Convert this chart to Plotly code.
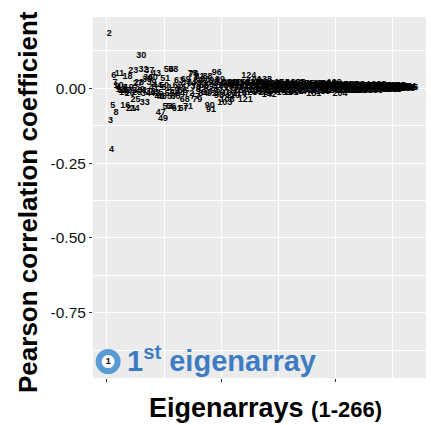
import plotly.graph_objects as go

# Eigenarray indices (1-266) and Pearson correlation coefficient
eigenarray_ids = list(range(1, 267))
correlation = [
    -0.913, 0.183, -0.107, -0.207, -0.057, 0.043, 0.020, -0.083, 0.005, 0.010,
    0.050, -0.005, 0.000, -0.010, -0.015, -0.060, -0.010, 0.037, 0.000, -0.020,
    -0.070, -0.010, 0.057, -0.070, -0.037, -0.015, 0.015, 0.020, -0.005, 0.110,
    -0.010, 0.063, -0.050, -0.020, 0.030, 0.035, 0.060, -0.012, 0.020, 0.035,
    0.000, -0.020, 0.050, 0.010, -0.015, -0.030, -0.083, -0.030, -0.103, 0.010,
    0.033, 0.000, -0.063, 0.063, -0.020, -0.063, -0.030, 0.063, -0.010, -0.030,
    -0.068, 0.010, 0.025, -0.020, 0.000, -0.010, -0.070, -0.037, 0.030, 0.015,
    -0.063, -0.020, 0.005, 0.020, 0.050, 0.045, -0.030, 0.000, -0.037, 0.025,
    0.040, -0.005, 0.015, -0.020, 0.010, 0.030, -0.015, 0.037, 0.005, -0.060,
    -0.073, -0.020, 0.020, 0.025, -0.010, 0.053, 0.010, -0.025, 0.030, 0.005,
    -0.015, 0.020, -0.050, 0.010, -0.037, 0.015, -0.020, 0.020, 0.000, -0.025,
    0.015, 0.020, -0.010, 0.010, 0.020, -0.020, 0.000, 0.015, 0.020, -0.010,
    -0.037, 0.005, 0.020, 0.043, -0.015, 0.010, -0.005, 0.015, 0.025, -0.010,
    0.005, 0.018, -0.012, 0.008, 0.020, -0.005, 0.012, 0.027, -0.015, 0.004,
    0.015, -0.023, 0.010, -0.008, 0.016, 0.002, -0.012, 0.018, 0.006, -0.010,
    0.012, -0.004, 0.020, 0.008, -0.014, 0.010, 0.000, 0.016, -0.008, 0.012,
    -0.016, 0.005, 0.018, -0.006, 0.010, -0.012, 0.020, 0.004, -0.010, 0.014,
    -0.002, 0.012, 0.006, -0.013, 0.016, 0.002, -0.008, 0.012, 0.008, -0.006,
    -0.017, 0.010, 0.015, -0.004, 0.008, -0.010, 0.012, 0.004, -0.012, 0.014,
    0.000, -0.008, 0.010, 0.016, -0.004, 0.006, -0.010, 0.012, 0.020, 0.002,
    -0.008, 0.010, 0.006, -0.017, 0.012, 0.004, -0.006, 0.010, -0.010, 0.008,
    0.002, -0.008, 0.012, 0.000, -0.005, 0.010, 0.005, -0.009, 0.011, 0.003,
    -0.006, 0.009, -0.003, 0.012, 0.004, -0.008, 0.007, 0.001, -0.006, 0.010,
    0.003, -0.004, 0.009, 0.006, -0.007, 0.008, 0.000, 0.011, -0.005, 0.006,
    0.002, -0.006, 0.009, 0.004, -0.003, 0.007, 0.001, -0.005, 0.008, 0.003,
    -0.004, 0.006, 0.002, -0.003, 0.007, 0.004, -0.002, 0.005, 0.001, -0.003,
    0.006, 0.003, -0.001, 0.004, 0.002, 0.003,
]

y_tick_vals = [0.0, -0.25, -0.5, -0.75]
y_tick_text = ["0.00", "-0.25", "-0.50", "-0.75"]
x_tick_vals = [0, 100, 200]

highlight_color = "#5B9BD5"
label_color = "#3D7CC2"
FONT = "Liberation Sans, Arial, sans-serif"

W, H = 431, 425
L, R, T, B = 93, 5, 17, 47

fig = go.Figure()

# Ring around the 1st eigenarray
fig.add_trace(go.Scatter(
    x=[eigenarray_ids[0]], y=[correlation[0]], mode="markers",
    marker=dict(symbol="circle", size=19, color="white",
                line=dict(color=highlight_color, width=6)),
    hoverinfo="skip", showlegend=False,
))

# Number labels for every eigenarray
fig.add_trace(go.Scatter(
    x=eigenarray_ids, y=correlation, mode="text",
    text=[str(i) for i in eigenarray_ids],
    textposition="middle center",
    textfont=dict(family=FONT, size=9, color="black", weight="bold"),
    showlegend=False,
))

fig.add_annotation(
    x=eigenarray_ids[0], y=correlation[0], xref="x", yref="y",
    xshift=17, xanchor="left", yanchor="middle", yshift=3,
    text="<b>1<sup>st</sup> eigenarray</b>", showarrow=False,
    font=dict(family=FONT, size=29, color=label_color),
)

# Axis titles placed as annotations (pixel positions converted to paper coords)
pw, ph = W - L - R, H - T - B
fig.add_annotation(
    x=(28 - L) / pw, y=(H - B - 202) / ph, xref="paper", yref="paper",
    text="<b>Pearson correlation coefficient</b>", textangle=-90,
    showarrow=False, xanchor="center", yanchor="middle",
    font=dict(family=FONT, size=26, color="black"),
)
fig.add_annotation(
    x=(265 - L) / pw, y=(H - B - 408) / ph, xref="paper", yref="paper",
    text="<b>Eigenarrays <span style='font-size:22px'>(1-266)</span></b>",
    showarrow=False, xanchor="center", yanchor="middle",
    font=dict(family=FONT, size=27, color="black"),
)

fig.update_layout(
    width=W, height=H,
    margin=dict(l=L, r=R, t=T, b=B, autoexpand=False),
    paper_bgcolor="white", plot_bgcolor="#EBEBEB",
    font=dict(family=FONT, color="black"),
    xaxis=dict(
        range=[-12.25, 279.25], tickvals=x_tick_vals, showticklabels=False,
        ticks="outside", ticklen=3, tickcolor="#333333", tickwidth=1,
        showgrid=True, gridcolor="white", gridwidth=1.1, zeroline=False,
        minor=dict(tick0=0, dtick=50, showgrid=True, gridcolor="white", gridwidth=0.5),
        showline=False, automargin=False,
    ),
    yaxis=dict(
        range=[-0.968, 0.238], tickvals=y_tick_vals, ticktext=y_tick_text,
        ticks="outside", ticklen=3, tickcolor="#333333", tickwidth=1,
        tickfont=dict(size=15.5, color="#111111"),
        showgrid=True, gridcolor="white", gridwidth=1.1, zeroline=False,
        minor=dict(tick0=0.125, dtick=0.25, showgrid=True, gridcolor="white", gridwidth=0.5),
        showline=False, automargin=False,
    ),
)

fig.write_html(
    "out.html",
    config={"displayModeBar": False},
    post_script="document.body.style.margin='0';document.body.style.padding='0';",
)
